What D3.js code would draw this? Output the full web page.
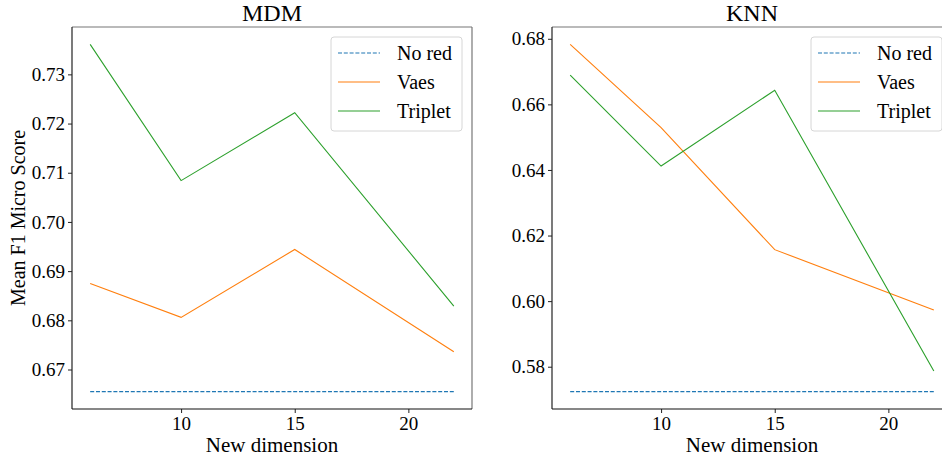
<!DOCTYPE html>
<html>
<head>
<meta charset="utf-8">
<script src="https://cdn.jsdelivr.net/npm/d3@7"></script>
<style>
  body { margin: 0; background: #fff; }
  svg text { font-family: "Liberation Serif", "DejaVu Serif", serif; fill: #000; }
</style>
</head>
<body>
<svg id="chart" width="942" height="459"></svg>
<script>
// data
var dims = [6, 10, 15, 22];
var seriesNames = ["No red", "Vaes", "Triplet"];
var colors = ["#1f77b4", "#ff7f0e", "#2ca02c"];

var mdmNoRed = [0.6655, 0.6655, 0.6655, 0.6655];
var mdmVaes = [0.6875, 0.6806, 0.6944, 0.6736];
var mdmTriplet = [0.7361, 0.7084, 0.7222, 0.6829];

var knnNoRed = [0.5724, 0.5724, 0.5724, 0.5724];
var knnVaes = [0.6783, 0.6529, 0.6157, 0.5973];
var knnTriplet = [0.6689, 0.6412, 0.6643, 0.5787];

var xTicks = [10, 15, 20];
var mdmTicks = [0.67, 0.68, 0.69, 0.70, 0.71, 0.72, 0.73];
var knnTicks = [0.58, 0.60, 0.62, 0.64, 0.66, 0.68];

var svg = d3.select("#chart");
var h = +svg.attr("height");

function panel(title, series, yTicks, left, showYLabel) {
    var top = 27, bottom = 409, width = 400;

    // matplotlib style 5% margins
    var xMin = d3.min(dims), xMax = d3.max(dims);
    var xPad = (xMax - xMin) * 0.05;
    var xScale = d3.scaleLinear()
        .domain([xMin - xPad, xMax + xPad])
        .range([left, left + width]);

    var all = d3.merge(series);
    var yMin = d3.min(all), yMax = d3.max(all);
    var yPad = (yMax - yMin) * 0.05;
    var yScale = d3.scaleLinear()
        .domain([yMin - yPad, yMax + yPad])
        .range([bottom, top]);

    var g = svg.append("g");

    // lines
    var line = d3.line()
        .x(function (d, i) { return xScale(dims[i]); })
        .y(function (d) { return yScale(d); });

    series.forEach(function (s, i) {
        g.append("path")
            .datum(s)
            .attr("d", line)
            .attr("fill", "none")
            .attr("stroke", colors[i])
            .attr("stroke-width", 1.1)
            .attr("stroke-dasharray", i === 0 ? "4,1.8" : null);
    });

    var xAxis = d3.axisBottom(xScale).tickValues(xTicks).tickSizeOuter(0).tickSize(4).tickPadding(4);
    var yAxis = d3.axisLeft(yScale).tickValues(yTicks).tickSizeOuter(0).tickSize(4).tickPadding(3)
        .tickFormat(d3.format(".2f"));

    var gx = g.append("g").attr("transform", "translate(0," + bottom + ")").call(xAxis);
    var gy = g.append("g").attr("transform", "translate(" + left + ",0)").call(yAxis);
    [gx, gy].forEach(function (a) {
        a.selectAll("text").style("font-size", "19px").attr("fill", "#000");
        a.selectAll("line").attr("stroke", "#222");
        a.select(".domain").remove();
    });

    // frame: top and right lighter
    g.append("line").attr("x1", left).attr("x2", left + width)
        .attr("y1", top).attr("y2", top)
        .attr("stroke", "#777").attr("stroke-width", 1.2);
    g.append("line").attr("x1", left + width).attr("x2", left + width)
        .attr("y1", top).attr("y2", bottom)
        .attr("stroke", "#777").attr("stroke-width", 1.2);
    g.append("line").attr("x1", left).attr("x2", left)
        .attr("y1", top).attr("y2", bottom)
        .attr("stroke", "#222").attr("stroke-width", 1.2);
    g.append("line").attr("x1", left).attr("x2", left + width)
        .attr("y1", bottom).attr("y2", bottom)
        .attr("stroke", "#111").attr("stroke-width", 1.2);

    // title
    g.append("text")
        .attr("x", left + width / 2)
        .attr("y", 21)
        .style("text-anchor", "middle")
        .style("font-size", "24px")
        .text(title);

    // x label
    g.append("text")
        .attr("x", left + width / 2)
        .attr("y", h - 7)
        .style("text-anchor", "middle")
        .style("font-size", "21px")
        .text("New dimension");

    if (showYLabel) {
        g.append("text")
            .attr("transform", "rotate(-90)")
            .attr("x", -(top + bottom) / 2)
            .attr("y", 25)
            .style("text-anchor", "middle")
            .style("font-size", "20px")
            .text("Mean F1 Micro Score");
    }

    // legend
    var lx = left + width - 141, ly = 37;
    var lg = g.append("g").attr("transform", "translate(" + lx + "," + ly + ")");
    lg.append("rect")
        .attr("width", 131).attr("height", 94)
        .attr("rx", 3)
        .attr("fill", "#fff").attr("fill-opacity", 0.85)
        .attr("stroke", "#d6d6d6");
    seriesNames.forEach(function (name, i) {
        var yy = 16 + i * 29;
        lg.append("line")
            .attr("x1", 7).attr("x2", 49)
            .attr("y1", yy).attr("y2", yy)
            .attr("stroke", colors[i])
            .attr("stroke-width", 1.1)
            .attr("stroke-dasharray", i === 0 ? "4,1.8" : null);
        lg.append("text")
            .attr("x", 66).attr("y", yy + 6.5)
            .style("font-size", "20px")
            .text(name);
    });
}

panel("MDM", [mdmNoRed, mdmVaes, mdmTriplet], mdmTicks, 72, true);
panel("KNN", [knnNoRed, knnVaes, knnTriplet], knnTicks, 552, false);
</script>
</body>
</html>
